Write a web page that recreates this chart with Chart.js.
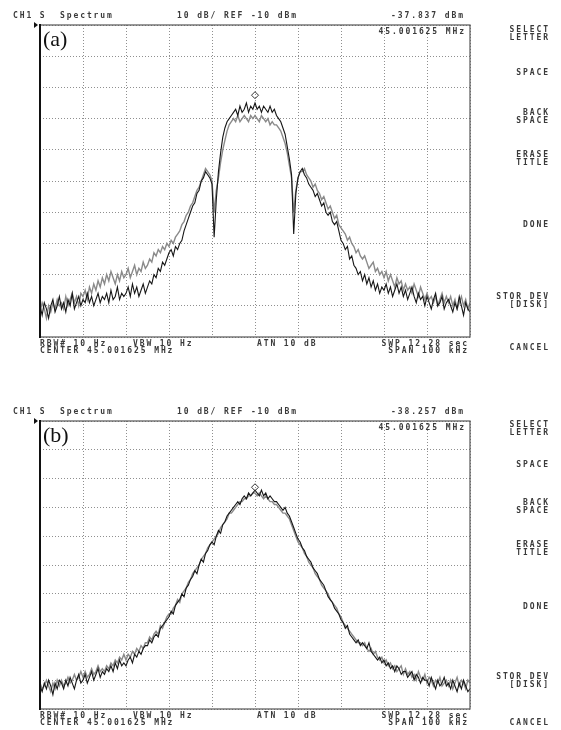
<!DOCTYPE html>
<html>
<head>
<meta charset="utf-8">
<script src="https://cdn.jsdelivr.net/npm/chart.js@4/dist/chart.umd.min.js"></script>
<style>
  body { margin: 0; background: #fff; }
  #page { position: relative; width: 561px; height: 730px; overflow: hidden; background: #fff; }
  .panel { position: absolute; left: 0; width: 480px; }
  .t { position: absolute; font: bold 8px "DejaVu Sans Mono", monospace; letter-spacing: 1.9px; color: #3a3a3a; white-space: pre; line-height: 8px; }
  .lab { position: absolute; font: 22px "Liberation Serif", serif; color: #111; line-height: 22px; }
</style>
</head>
<body>
<div id="page">
  <div class="panel" style="top:0;height:345px"><canvas id="chartA"></canvas></div>
  <div class="panel" style="top:396px;height:330px"><canvas id="chartB"></canvas></div>
  <div class="lab" style="left:43px;top:28px">(a)</div>
  <div class="lab" style="left:43px;top:424px">(b)</div>
</div>
<script>
// sweep: 201 points, -50 .. +50 kHz around the 45.001625 MHz centre
const startKHz = -50;
const stepKHz = 0.5;

// panel (a), dBm
const blackA = [
  -100, -103, -99, -101, -104, -100, -98, -102, -100, -97,
  -101, -99, -102, -98, -100, -96, -101, -99, -97, -100,
  -98, -99, -96, -99, -97, -100, -98, -96, -99, -97,
  -98, -96, -99, -95, -98, -97, -94, -98, -96, -97,
  -96, -94, -97, -93, -96, -94, -97, -95, -93, -96,
  -94, -92, -93, -90, -91, -88, -89, -86, -87, -85,
  -83, -82, -84, -81, -82, -80, -79, -76, -74, -72,
  -70, -68, -67, -64, -63, -60, -59, -57, -58, -59,
  -61, -78, -66, -57, -51, -46, -43, -41, -40, -39,
  -38, -37, -39, -36, -38, -37, -35, -38, -36, -37,
  -35, -37, -36, -38, -36, -37, -38, -36, -38, -37,
  -39, -40, -41, -43, -45, -49, -53, -58, -77, -64,
  -59, -57, -56, -58, -59, -61, -62, -63, -65, -64,
  -66, -68, -67, -70, -71, -70, -73, -74, -73, -76,
  -79, -80, -82, -81, -85, -84, -87, -88, -90, -89,
  -92, -90, -93, -91, -94, -92, -95, -93, -96, -94,
  -95, -93, -96, -94, -97, -95, -93, -96, -94, -97,
  -95, -98, -96, -94, -97, -99, -96, -98, -97, -100,
  -97, -99, -101, -98, -96, -100, -99, -97, -101, -99,
  -98, -100, -102, -99, -101, -97, -100, -103, -99, -101,
  -102
];
const grayA = [
  -102, -99, -101, -104, -100, -102, -99, -101, -98, -100,
  -99, -101, -97, -100, -98, -96, -99, -97, -100, -96,
  -97, -95, -98, -94, -96, -93, -95, -92, -94, -91,
  -93, -90, -92, -89, -91, -93, -90, -92, -89, -91,
  -90, -88, -91, -89, -87, -90, -88, -89, -86, -88,
  -87, -85, -86, -83, -84, -82, -83, -81, -82, -80,
  -81, -79, -80, -78, -77, -76, -74, -73, -71, -70,
  -68, -67, -65, -63, -62, -60, -58, -56, -57, -58,
  -60, -70, -63, -59, -54, -50, -47, -44, -42, -41,
  -40, -41, -39, -41, -40, -39, -40, -41, -39, -40,
  -39, -40, -41, -39, -40, -41, -40, -42, -41, -42,
  -42, -43, -44, -46, -48, -51, -55, -59, -70, -63,
  -59, -57, -57, -56, -58, -59, -60, -62, -61, -63,
  -64, -66, -65, -67, -69, -68, -70, -72, -71, -74,
  -75, -76, -77, -79, -78, -80, -81, -83, -82, -84,
  -85, -84, -86, -88, -87, -86, -89, -88, -90, -89,
  -91, -89, -92, -90, -92, -94, -91, -93, -92, -95,
  -93, -95, -94, -96, -93, -95, -97, -94, -96, -98,
  -96, -98, -97, -99, -97, -100, -98, -96, -99, -97,
  -99, -97, -100, -98, -101, -99, -97, -100, -98, -101,
  -99
];

// panel (b), dBm
const blackB = [
  -102, -104, -101, -103, -100, -102, -105, -101, -103, -100,
  -101, -103, -100, -102, -99, -101, -103, -100, -98, -101,
  -100, -98, -101, -99, -97, -100, -98, -96, -99, -97,
  -98, -96, -97, -95, -97, -94, -96, -93, -95, -94,
  -95, -93, -92, -94, -91, -92, -90, -91, -89, -88,
  -88, -86, -87, -85, -84, -85, -82, -81, -80, -79,
  -78, -76, -77, -74, -73, -72, -70, -71, -68, -67,
  -65, -64, -62, -63, -60, -58, -59, -56, -55, -53,
  -52, -53, -50, -48, -49, -46, -45, -43, -42, -41,
  -40, -39, -38, -39, -37, -36, -37, -35, -36, -35,
  -34, -35, -36, -34, -36, -35, -37, -36, -37, -38,
  -38, -39, -40, -41, -40, -42, -43, -45, -47, -49,
  -51, -52, -54, -55, -57, -58, -59, -61, -62, -63,
  -65, -66, -67, -69, -71, -72, -73, -75, -76, -77,
  -79, -80, -82, -81, -84, -85, -86, -87, -86, -88,
  -87, -88, -89, -87, -90, -91, -92, -93, -92, -94,
  -93, -95, -94, -96, -95, -97, -95, -96, -98, -97,
  -97, -99, -98, -97, -100, -98, -99, -101, -99, -100,
  -100, -102, -99, -101, -103, -100, -102, -101, -99, -102,
  -101, -103, -100, -102, -104, -101, -103, -100, -102, -104,
  -103
];
const grayB = [
  -101, -103, -102, -100, -102, -104, -101, -103, -100, -102,
  -100, -102, -101, -99, -101, -100, -98, -100, -99, -97,
  -99, -97, -99, -98, -96, -98, -97, -95, -97, -96,
  -97, -95, -96, -94, -95, -93, -94, -92, -93, -91,
  -93, -91, -92, -90, -91, -89, -90, -88, -89, -87,
  -87, -85, -86, -84, -83, -84, -81, -82, -80, -78,
  -77, -77, -75, -74, -72, -73, -70, -69, -68, -66,
  -65, -63, -62, -61, -60, -58, -57, -56, -54, -53,
  -52, -51, -50, -49, -47, -46, -45, -44, -42, -42,
  -41, -40, -39, -38, -38, -37, -37, -36, -36, -35,
  -35, -36, -35, -36, -37, -36, -37, -38, -38, -39,
  -39, -40, -41, -42, -42, -43, -44, -46, -48, -50,
  -52, -53, -54, -56, -57, -59, -60, -61, -63, -64,
  -65, -67, -68, -69, -70, -72, -73, -74, -75, -77,
  -78, -80, -81, -82, -83, -84, -85, -86, -87, -87,
  -88, -87, -89, -90, -89, -91, -90, -92, -93, -92,
  -94, -93, -95, -94, -96, -95, -97, -96, -95, -98,
  -96, -98, -97, -99, -98, -100, -97, -99, -100, -98,
  -101, -99, -100, -102, -100, -101, -99, -102, -101, -100,
  -102, -100, -103, -101, -99, -102, -100, -101, -103, -100,
  -101
];

// marker diamond (kHz, dBm as drawn)
const markerA = [{ x: 0, y: -32.5 }];
const markerB = [{ x: 0, y: -33 }];

// screen annotations
const refLevel = "-10 dBm";
const markerReadA = "-37.837 dBm";
const markerReadB = "-38.257 dBm";
const markerFreq = "45.001625 MHz";
const menuKeys = [["SELECT", "LETTER"], ["SPACE"], ["BACK", "SPACE"], ["ERASE", "TITLE"], ["DONE"], ["STOR DEV", "[DISK]"], ["CANCEL"]];

const page = document.getElementById("page");
function text(str, x, cy, right) {
  const d = document.createElement("div");
  d.className = "t";
  d.textContent = str;
  d.style.top = (cy - 4) + "px";
  if (right) d.style.right = (561 - x - 1.9) + "px";
  else d.style.left = x + "px";
  page.appendChild(d);
}

function screenText(top, read, menuY, footY) {
  text("CH1 S  Spectrum", 13, top);
  text("10 dB/ REF " + refLevel, 177, top);
  text(read, 463, top, true);
  text(markerFreq, 464, top + 16, true);
  text("RBW# 10 Hz", 40, footY);
  text("VBW 10 Hz", 133, footY);
  text("ATN 10 dB", 257, footY);
  text("SWP 12.28 sec", 467, footY, true);
  text("CENTER 45.001625 MHz", 40, footY + 7);
  text("SPAN 100 kHz", 467, footY + 7, true);
  menuKeys.forEach((k, i) => {
    k.forEach((line, j) => text(line, 548, menuY[i] + j * 7.5, true));
  });
}
screenText(16, markerReadA, [30, 73, 113, 155, 225, 297, 348], 343.5);
screenText(412, markerReadB, [425, 465, 503, 545, 607, 677, 723], 715.5);

const frame = {
  id: "frame",
  afterDatasetsDraw(chart) {
    const { ctx, chartArea: a } = chart;
    ctx.save();
    ctx.strokeStyle = "#555";
    ctx.lineWidth = 1.2;
    ctx.strokeRect(a.left, a.top, a.right - a.left, a.bottom - a.top);
    ctx.strokeStyle = "#111";
    ctx.lineWidth = 2;
    ctx.beginPath();
    ctx.moveTo(a.left, a.top - 1);
    ctx.lineTo(a.left, a.bottom + 1);
    ctx.stroke();
    ctx.fillStyle = "#111";
    ctx.beginPath();
    ctx.moveTo(a.left - 6, a.top - 3);
    ctx.lineTo(a.left - 2, a.top);
    ctx.lineTo(a.left - 6, a.top + 3);
    ctx.fill();
    ctx.restore();
  }
};

function trace(vals) {
  return vals.map((v, i) => ({ x: startKHz + i * stepKHz, y: v }));
}

function makePanel(id, black, gray, marker, padBottom) {
  return new Chart(document.getElementById(id), {
    type: "line",
    data: {
      datasets: [
        { data: marker, showLine: false, pointStyle: "rectRot", pointRadius: 3.5,
          borderColor: "#333", borderWidth: 1, backgroundColor: "rgba(255,255,255,0)" },
        { data: trace(black), borderColor: "#161616", borderWidth: 1.1, pointRadius: 0, tension: 0 },
        { data: trace(gray), borderColor: "#8a8a8a", borderWidth: 1.4, pointRadius: 0, tension: 0 }
      ]
    },
    options: {
      responsive: true,
      maintainAspectRatio: false,
      animation: false,
      layout: { padding: { left: 40, top: 25, right: 10, bottom: padBottom }, autoPadding: false },
      plugins: { legend: { display: false }, tooltip: { enabled: false } },
      scales: {
        x: {
          type: "linear", min: -50, max: 50,
          ticks: { display: false, stepSize: 10 },
          grid: { color: "#8f8f8f", lineWidth: 1, drawTicks: false },
          border: { display: false, dash: [1, 2] }
        },
        y: {
          min: -110, max: -10,
          ticks: { display: false, stepSize: 10 },
          grid: { color: "#8f8f8f", lineWidth: 1, drawTicks: false },
          border: { display: false, dash: [1, 2] }
        }
      }
    },
    plugins: [frame]
  });
}

makePanel("chartA", blackA, grayA, markerA, 8);
makePanel("chartB", blackB, grayB, markerB, 17);
</script>
</body>
</html>
